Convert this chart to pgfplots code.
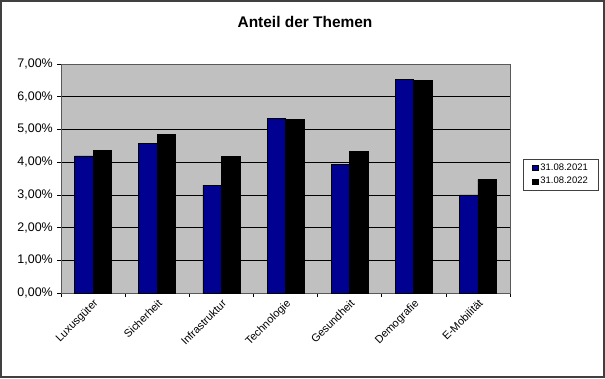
\documentclass[border=0pt]{standalone}
\usepackage{pgfplots}
\pgfplotsset{compat=1.18}
\usepackage{fontspec}
\setmainfont{Liberation Sans}
\definecolor{barblue}{RGB}{0,0,145}
\definecolor{plotbg}{RGB}{192,192,192}
\definecolor{framegray}{RGB}{64,64,64}
\begin{document}
\begin{tikzpicture}[x=1bp,y=1bp]
\useasboundingbox (0,0) rectangle (605,378);
\fill[white] (0,0) rectangle (605,378);
\draw[framegray, line width=2bp] (1,1) rectangle (604,377);
\node[font=\fontsize{15.5}{18}\selectfont\bfseries] at (305,356) {Anteil der Themen};
\begin{axis}[
  at={(61bp,85bp)}, anchor=south west,
  scale only axis, width=449bp, height=229bp,
  xmin=-0.5, xmax=6.5, ymin=0, ymax=7,
  ybar=0pt, bar width=18.5bp,
  axis background/.style={fill=plotbg},
  axis line style={draw=gray!70!black, line width=0.8bp},
  xtick={0,...,6},
  xticklabels={Luxusgüter,Sicherheit,Infrastruktur,Technologie,Gesundheit,Demografie,E-Mobilität},
  major x tick style={draw=none},
  minor xtick={-0.5,0.5,...,6.5},
  minor x tick style={black, line width=0.6bp},
  minor tick length=4bp,
  ytick={0,...,7},
  yticklabels={{0,00\%},{1,00\%},{2,00\%},{3,00\%},{4,00\%},{5,00\%},{6,00\%},{7,00\%}},
  major y tick style={black, line width=0.6bp},
  major tick length=4bp,
  tick align=outside, tick pos=left,
  ymajorgrids, grid style={black, line width=0.7bp},
  xticklabel style={font=\fontsize{11}{13}\selectfont, rotate=45, anchor=north east, inner sep=1bp},
  yticklabel style={font=\fontsize{12.5}{14}\selectfont, inner sep=1bp, xshift=-3bp},
  legend style={at={(1.029,0.517)}, anchor=west, draw=framegray, line width=0.6bp,
    font=\fontsize{9.5}{11}\selectfont, inner xsep=9bp, inner ysep=2.5bp, row sep=1.5bp},
  legend cell align=left,
  legend image code/.code={\fill[#1] (0bp,-2.6bp) rectangle (5.5bp,2.6bp);},
  legend style={/tikz/every even column/.append style={column sep=0bp}},
]
\addplot[fill=barblue, draw=black, line width=0.6bp] coordinates {(0,4.19) (1,4.57) (2,3.30) (3,5.34) (4,3.93) (5,6.53) (6,3.00)};
\addplot[fill=black, draw=black, line width=0.6bp] coordinates {(0,4.36) (1,4.85) (2,4.17) (3,5.30) (4,4.32) (5,6.51) (6,3.47)};
\legend{31.08.2021,31.08.2022}
\end{axis}
\end{tikzpicture}
\end{document}
